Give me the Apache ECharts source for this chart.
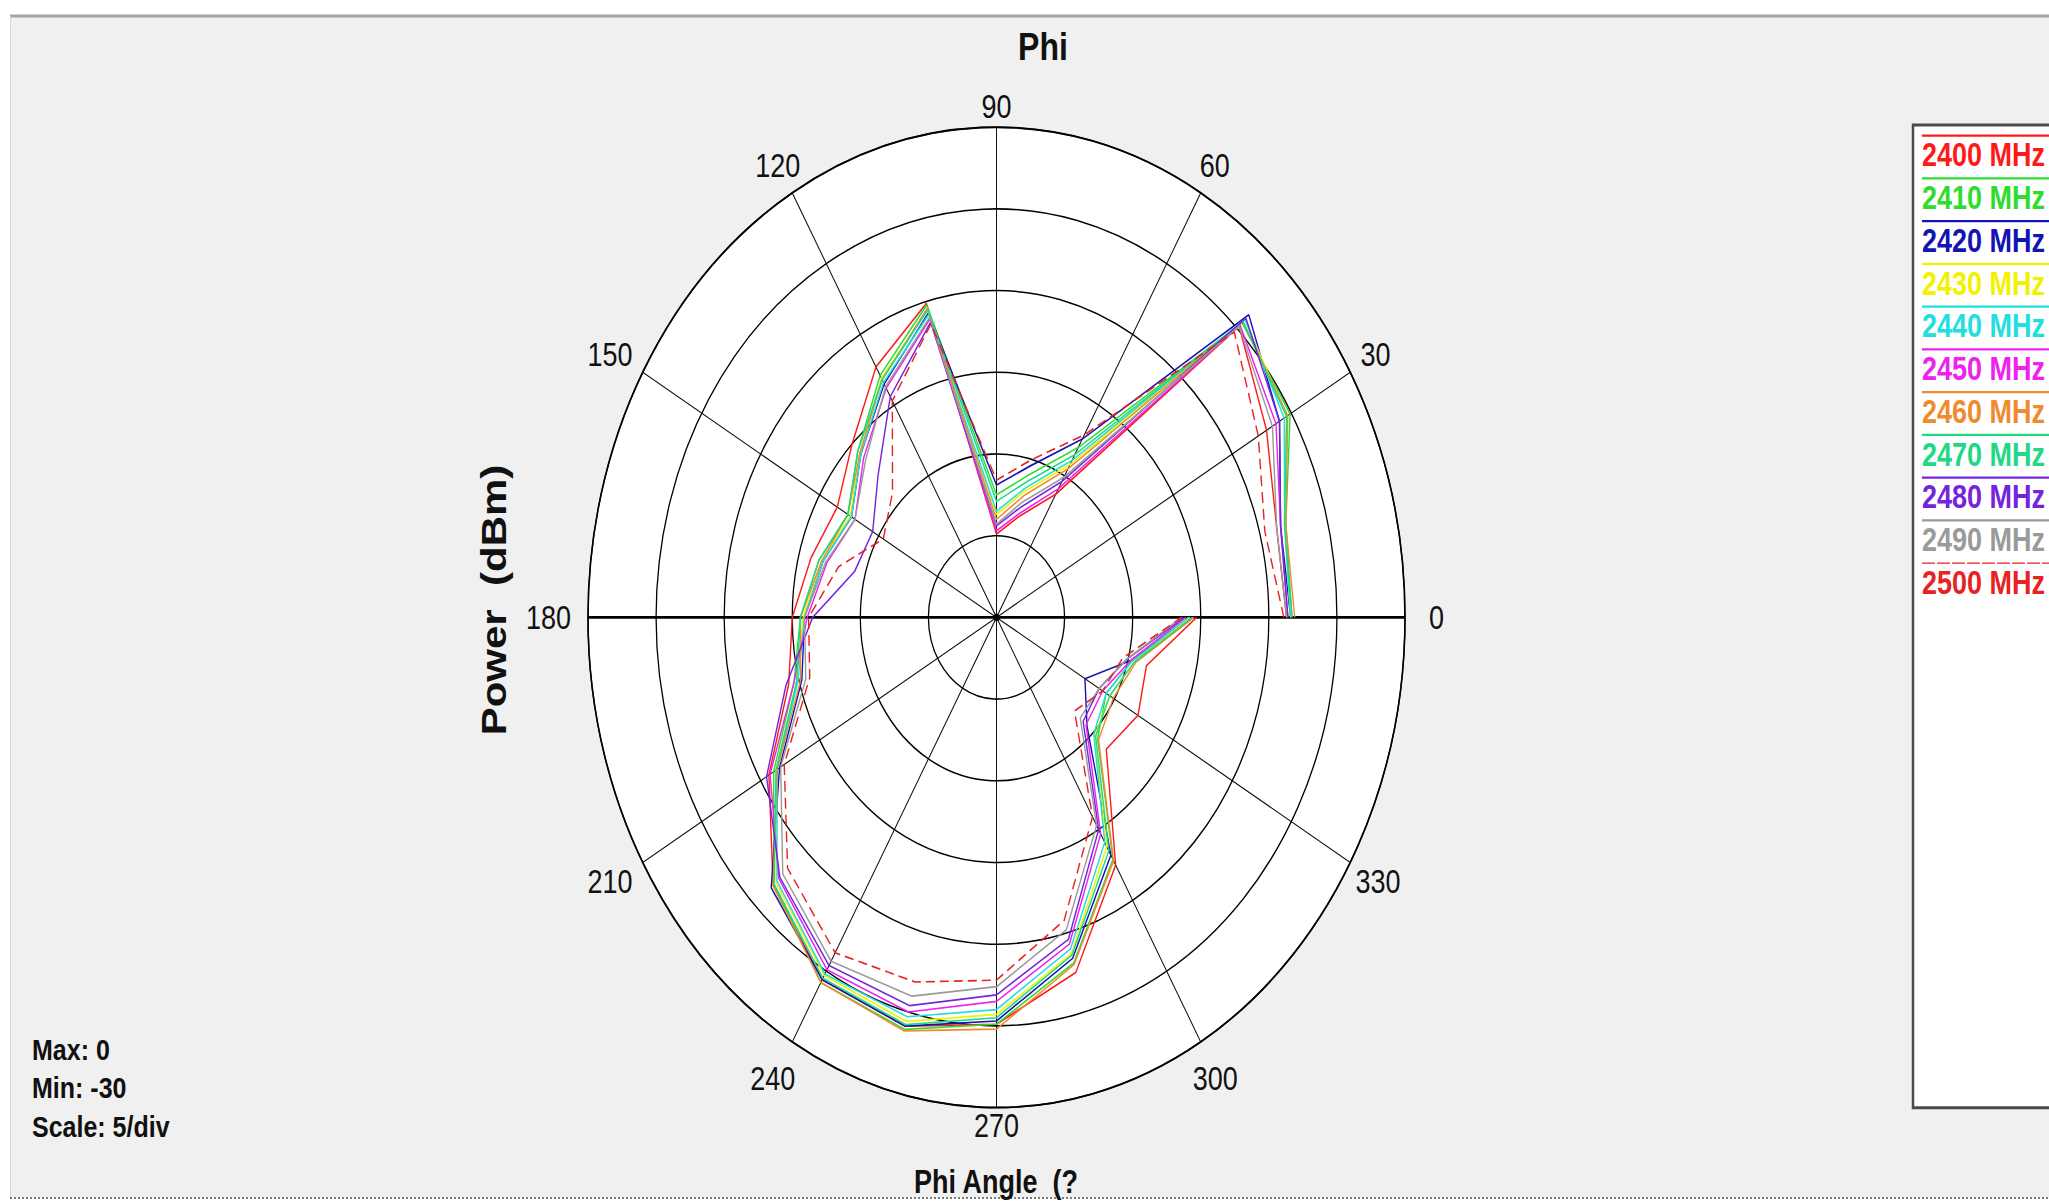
<!DOCTYPE html>
<html>
<head>
<meta charset="utf-8">
<script src="https://cdn.jsdelivr.net/npm/echarts@6/dist/echarts.min.js"></script>
<style>
html,body{margin:0;padding:0;background:#ffffff;overflow:hidden;width:2049px;height:1203px;}
#wrap{position:absolute;left:0;top:0;width:2049px;height:1002.5px;transform:scale(1,1.2);transform-origin:0 0;}
#chart{width:2049px;height:1002.5px;}
</style>
</head>
<body>
<div id="wrap"><div id="chart"></div></div>
<script>
// ---- data (power in dBm per phi angle, degrees) ----
const angles = [0,15,30,45,60,75,90,105,120,135,150,165,180,195,210,225,240,255,270,285,300,315,330,345,360];
const names = ['2400 MHz','2410 MHz','2420 MHz','2430 MHz','2440 MHz','2450 MHz','2460 MHz','2470 MHz','2480 MHz','2490 MHz','2500 MHz'];
const p2400 = [-8.7,-8.7,-7.1,-4.8,-21.3,-23.6,-24.9,-10.1,-12.3,-15.0,-16.5,-15.9,-15.0,-14.2,-10.7,-6.8,-4.4,-4.1,-5.1,-7.5,-12.5,-18.6,-18.0,-18.6,-15.3];
const p2410 = [-8.3,-8.0,-5.1,-4.5,-18.0,-21.0,-22.5,-10.2,-12.9,-15.6,-17.4,-16.5,-15.6,-14.6,-11.1,-6.9,-4.2,-3.9,-5.1,-8.1,-12.9,-19.5,-20.7,-19.7,-15.6];
const p2420 = [-8.4,-8.4,-6.0,-3.8,-17.4,-20.4,-21.9,-10.7,-13.5,-15.9,-17.7,-16.8,-15.9,-15.2,-11.6,-6.6,-4.4,-4.1,-5.3,-8.4,-13.2,-20.6,-22.5,-19.8,-15.8];
const p2430 = [-8.4,-8.1,-5.4,-4.2,-19.2,-22.0,-23.7,-10.5,-13.1,-15.8,-17.6,-16.7,-15.8,-14.8,-11.3,-7.1,-4.7,-4.4,-5.7,-8.7,-13.8,-19.8,-20.4,-19.5,-15.8];
const p2440 = [-8.4,-8.1,-5.6,-4.2,-18.9,-21.8,-23.5,-10.8,-13.4,-15.9,-17.7,-16.8,-15.9,-14.9,-11.4,-7.2,-4.8,-4.7,-6.0,-9.0,-14.1,-19.9,-20.7,-19.7,-15.9];
const p2450 = [-8.6,-8.4,-6.3,-4.7,-20.9,-23.4,-24.7,-11.1,-13.8,-16.2,-18.0,-17.1,-16.1,-14.6,-10.8,-7.4,-5.1,-5.0,-6.5,-9.3,-14.7,-20.7,-21.0,-19.8,-16.1];
const p2460 = [-8.1,-8.0,-5.3,-4.4,-19.5,-22.3,-24.0,-10.4,-13.2,-15.8,-17.4,-16.7,-15.6,-15.1,-11.4,-6.8,-4.2,-3.8,-4.8,-8.0,-12.8,-19.4,-20.1,-19.4,-15.5];
const p2470 = [-8.3,-8.1,-5.4,-4.4,-18.5,-21.4,-22.9,-10.5,-13.2,-15.6,-17.4,-16.5,-15.6,-14.8,-11.3,-6.9,-4.5,-4.2,-5.5,-8.6,-13.5,-19.7,-20.4,-19.5,-15.6];
const p2480 = [-8.6,-8.4,-6.0,-4.1,-20.4,-23.0,-24.4,-11.3,-14.4,-17.7,-19.5,-19.2,-16.5,-14.0,-10.5,-7.5,-5.4,-5.4,-6.9,-9.6,-15.0,-21.0,-21.3,-20.1,-16.2];
const p2490 = [-8.7,-8.7,-6.6,-4.8,-20.1,-22.7,-24.3,-11.0,-13.7,-16.4,-18.0,-17.0,-15.9,-15.5,-11.7,-7.8,-5.7,-6.0,-7.4,-10.2,-15.3,-21.3,-21.3,-20.1,-16.4];
const p2500 = [-8.9,-9.6,-7.8,-5.3,-17.1,-20.0,-21.6,-11.4,-14.7,-19.2,-20.4,-18.0,-16.2,-15.8,-12.0,-8.3,-6.3,-6.9,-7.8,-10.8,-15.9,-21.9,-21.0,-20.4,-16.4];
const radiusTicks = {min: -30, max: 0, step: 5};
const angleTicks = {min: 0, max: 360, step: 30};
const infoLines = ['Max: 0', 'Min: -30', 'Scale: 5/div'];

// ---- styles / layout ----
const values = [p2400,p2410,p2420,p2430,p2440,p2450,p2460,p2470,p2480,p2490,p2500];
const colors = ['#ff1a1a','#2edc2e','#1414b4','#f2f200','#22dede','#ee22ee','#f08a30','#22d884','#7424dc','#9a9a9a','#e82222'];
const CX = 996.5, CY = 514.5, R = 408.5;
const LBL = '"Liberation Sans", Arial, sans-serif';

// legend rich styles (line above coloured text)
const rich = {};
names.forEach((n, i) => {
  if (i === 10) {
    rich['l' + i] = {width: 134, height: 0, lineHeight: 7, borderColor: colors[i], borderWidth: 1.2, borderType: [9, 6]};
  } else {
    rich['l' + i] = {width: 134, height: 2, lineHeight: 7, backgroundColor: colors[i]};
  }
  rich['t' + i] = {color: colors[i], fontSize: 27, fontWeight: 'bold', fontFamily: LBL, lineHeight: 25.25};
});

// angle label offsets (padding: top, right, bottom, left)
const labelPad = {0:[0,0,0,40],30:[0,0,9,24],60:[0,0,23,7],90:[0,0,20,0],120:[0,0,23,0],150:[0,24,9,0],
  180:[0,33,0,0],210:[10,24,0,0],240:[31,5,0,0],270:[17.5,0,0,0],300:[31,0,0,0],330:[10,0,0,19]};
const angleRich = {};
Object.keys(labelPad).forEach(k => {
  angleRich['a' + k] = {padding: labelPad[k], fontSize: 27, color: '#111', fontFamily: LBL};
});

const chart = echarts.init(document.getElementById('chart'), null, {renderer: 'svg'});
chart.setOption({
  animation: false,
  backgroundColor: 'transparent',
  polar: [
    {center: [CX, CY], radius: [0, R]},
    {center: [CX, CY], radius: [0, R]}
  ],
  angleAxis: [
    {
      polarIndex: 0, type: 'value', min: angleTicks.min, max: angleTicks.max, interval: angleTicks.step,
      startAngle: 0, clockwise: false,
      axisLine: {show: true, lineStyle: {color: '#111', width: 1.6}},
      axisTick: {show: false},
      axisLabel: {show: true, margin: -16, fontSize: 27, color: '#111', fontFamily: LBL, rich: angleRich,
        formatter: v => (v === 360 ? '' : '{a' + v + '|' + v + '}')},
      splitLine: {show: true, lineStyle: {color: '#111', width: 1}}
    },
    {
      polarIndex: 1, type: 'value', min: 0, max: 360, interval: 180,
      startAngle: 0, clockwise: false, z: 1,
      axisLine: {show: false}, axisTick: {show: false}, axisLabel: {show: false},
      splitLine: {show: true, lineStyle: {color: '#000', width: 2.2}}
    }
  ],
  radiusAxis: [
    {
      polarIndex: 0, type: 'value', min: radiusTicks.min, max: radiusTicks.max, interval: radiusTicks.step,
      axisLine: {show: false}, axisTick: {show: false}, axisLabel: {show: false},
      splitLine: {show: false},
      splitArea: {show: true, areaStyle: {color: ['#ffffff']}}
    },
    {
      polarIndex: 1, type: 'value', min: radiusTicks.min, max: radiusTicks.max, interval: radiusTicks.step, z: 1,
      axisLine: {show: false}, axisTick: {show: false}, axisLabel: {show: false},
      splitLine: {show: true, lineStyle: {color: '#000', width: 1.3}},
      splitArea: {show: false}
    }
  ],
  legend: {
    orient: 'vertical', left: 1917, top: 107, padding: 0, itemGap: 0,
    itemWidth: 0, itemHeight: 0, selectedMode: false,
    data: names.map(n => ({name: n, icon: 'rect'})),
    formatter: name => { const i = names.indexOf(name); return '{l' + i + '|}\n{t' + i + '|' + name + '}'; },
    textStyle: {rich: rich}
  },
  graphic: [
    {type: 'rect', z: -10, silent: true, shape: {x: 10, y: 13.3, width: 2039, height: 984.7}, style: {fill: '#f0f0f0'}},
    {type: 'line', z: -9, silent: true, shape: {x1: 10, y1: 13.3, x2: 2049, y2: 13.3}, style: {stroke: '#a4a4a4', lineWidth: 2.5}},
    {type: 'line', z: -9, silent: true, shape: {x1: 10.5, y1: 13.3, x2: 10.5, y2: 998}, style: {stroke: '#d6d6d6', lineWidth: 1}},
    {type: 'line', z: -9, silent: true, shape: {x1: 10, y1: 998.3, x2: 2049, y2: 998.3}, style: {stroke: '#7a7a7a', lineWidth: 1.8, lineDash: [2, 2]}},
    {type: 'rect', z: -8, silent: true, shape: {x: 1913, y: 104.2, width: 200, height: 819}, style: {fill: '#ffffff', stroke: '#4a4a4a', lineWidth: 2.5}},
    {type: 'circle', z: 5, silent: true, shape: {cx: CX, cy: CY, r: 3.2}, style: {fill: '#000'}},
    {type: 'text', silent: true, x: 1043, y: 39, style: {text: 'Phi', font: 'bold 32px ' + LBL, fill: '#111', textAlign: 'center', textVerticalAlign: 'middle'}},
    {type: 'text', silent: true, x: 996, y: 985, style: {text: 'Phi Angle  (?', font: 'bold 27px ' + LBL, fill: '#111', textAlign: 'center', textVerticalAlign: 'middle'}},
    {type: 'text', silent: true, x: 494, y: 500, rotation: Math.PI / 2, style: {text: 'Power  (dBm)', font: 'bold 35px ' + LBL, fill: '#111', textAlign: 'center', textVerticalAlign: 'middle'}},
    {type: 'text', silent: true, x: 32, y: 875, style: {text: infoLines[0], font: 'bold 25px ' + LBL, fill: '#111', textAlign: 'left', textVerticalAlign: 'middle'}},
    {type: 'text', silent: true, x: 32, y: 906.5, style: {text: infoLines[1], font: 'bold 25px ' + LBL, fill: '#111', textAlign: 'left', textVerticalAlign: 'middle'}},
    {type: 'text', silent: true, x: 32, y: 938.5, style: {text: infoLines[2], font: 'bold 25px ' + LBL, fill: '#111', textAlign: 'left', textVerticalAlign: 'middle'}}
  ],
  series: names.map((n, i) => ({
    type: 'line', name: n, coordinateSystem: 'polar', polarIndex: 0,
    data: values[i].map((v, k) => [v, angles[k]]),
    symbol: 'none', z: 3,
    itemStyle: {color: colors[i]},
    lineStyle: {color: colors[i], width: 1.4, type: i === 10 ? [9, 5] : 'solid'}
  }))
});
</script>
</body>
</html>
